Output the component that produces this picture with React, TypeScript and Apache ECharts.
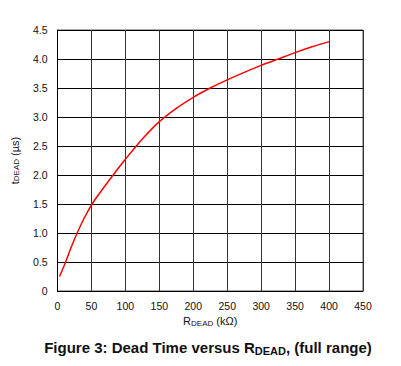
import React, { useEffect, useRef } from "react";
import * as echarts from "echarts";

const rDead = [3, 12, 20, 29, 39, 51, 66, 82, 100, 125, 150, 175, 200, 225, 250, 275, 300, 325, 350, 375, 400];
const tDead = [0.25, 0.5, 0.75, 1.0, 1.25, 1.5, 1.75, 2.0, 2.27, 2.62, 2.92, 3.15, 3.34, 3.5, 3.64, 3.77, 3.89, 4.0, 4.11, 4.21, 4.3];

const FONT = "Liberation Sans, Arial, sans-serif";

export default function App() {
  const ref = useRef<HTMLDivElement>(null);
  useEffect(() => {
    if (!ref.current) return;
    const chart = echarts.init(ref.current, undefined, { renderer: "svg" });
    chart.setOption({
      animation: false,
      textStyle: { fontFamily: FONT },
      title: {
        text: "{b|Figure 3: Dead Time versus R}{s|DEAD}{b|, (full range)}",
        left: 203,
        textAlign: "center",
        top: 333,
        textStyle: {
          rich: {
            b: { fontSize: 15, fontWeight: "bold", color: "#111", fontFamily: FONT },
            s: { fontSize: 11, fontWeight: "bold", color: "#111", fontFamily: FONT, padding: [7, 0, 0, 0] },
          },
        },
      },
      grid: {
        left: 57.5,
        right: 38,
        top: 30,
        bottom: 75,
        show: true,
        borderColor: "#555",
        borderWidth: 1,
      },
      xAxis: {
        type: "value",
        min: 0,
        max: 450,
        interval: 50,
        name: "{r|R}{s|DEAD}{r| (kΩ)}",
        nameLocation: "middle",
        nameGap: 23,
        nameTextStyle: {
          rich: {
            r: { fontSize: 11, color: "#111", fontFamily: FONT },
            s: { fontSize: 8, color: "#111", fontFamily: FONT, padding: [4, 0, 0, 0] },
          },
        },
        axisLine: { show: true, lineStyle: { color: "#000", width: 1 } },
        axisTick: { show: false },
        axisLabel: { color: "#111", fontSize: 10.5, margin: 9, fontFamily: FONT },
        splitLine: { show: true, lineStyle: { color: "#333", width: 1 } },
      },
      yAxis: {
        type: "value",
        min: 0,
        max: 4.5,
        interval: 0.5,
        name: "{r|t}{s|DEAD}{r| (µs)}",
        nameLocation: "middle",
        nameRotate: 90,
        nameGap: 37,
        nameTextStyle: {
          rich: {
            r: { fontSize: 11, color: "#111", fontFamily: FONT },
            s: { fontSize: 8, color: "#111", fontFamily: FONT, padding: [4, 0, 0, 0] },
          },
        },
        axisLine: { show: true, lineStyle: { color: "#000", width: 1 } },
        axisTick: { show: false },
        axisLabel: {
          color: "#111",
          fontSize: 10.5,
          margin: 10,
          fontFamily: FONT,
          formatter: (v: number) => (v === 0 ? "0" : v.toFixed(1)),
        },
        splitLine: { show: true, lineStyle: { color: "#000", width: 1 } },
      },
      series: [
        {
          type: "line",
          data: rDead.map((x, i) => [x, tDead[i]]),
          smooth: 0.3,
          showSymbol: false,
          lineStyle: { color: "#ff0000", width: 1.5 },
        },
      ],
    });
    return () => chart.dispose();
  }, []);
  return <div ref={ref} style={{ width: 401, height: 366, position: "absolute", left: 0, top: 0 }} />;
}
